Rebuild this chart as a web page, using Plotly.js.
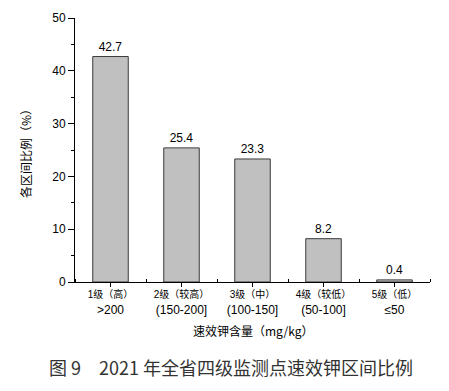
<!DOCTYPE html>
<html>
<head>
<meta charset="utf-8">
<script src="https://cdn.plot.ly/plotly-3.0.1.min.js"></script>
<style>html,body{margin:0;padding:0;background:#fff;}#chart{width:449px;height:391px;}</style>
</head>
<body>
<div id="chart"></div>
<script>
const levels = ["1级（高）", "2级（较高）", "3级（中）", "4级（较低）", "5级（低）"];
const ranges = [">200", "(150-200]", "(100-150]", "(50-100]", "≤50"];
const values = [42.7, 25.4, 23.3, 8.2, 0.4];
const yTitle = "各区间比例（%）";
const xTitle = "速效钾含量（mg/kg）";
const caption = "图 9　2021 年全省四级监测点速效钾区间比例";

const idx = values.map((v, i) => i);
const ticktext = levels.map((l, i) => "<span style='font-size:10px'>" + l + "</span><br>" + ranges[i]);

const trace = {
  type: "bar",
  x: idx,
  y: values,
  width: 0.5,
  marker: {color: "#c0c0c0", line: {color: "#3a3a3a", width: 1}},
  text: values.map(v => v.toFixed(1)),
  textposition: "outside",
  cliponaxis: false,
  textfont: {family: "Liberation Sans, Arial", size: 12, color: "#000"},
  hoverinfo: "none"
};

const layout = {
  width: 449, height: 391,
  margin: {l: 75, r: 19, t: 18, b: 109},
  paper_bgcolor: "#fff", plot_bgcolor: "#fff",
  showlegend: false,
  font: {family: "Liberation Sans, Arial, Noto Sans CJK SC", color: "#000"},
  xaxis: {
    range: [-0.5, 4.5],
    tickmode: "array", tickvals: idx, ticktext: ticktext,
    ticks: "outside", ticklen: 4, tickcolor: "#000", tickwidth: 1,
    ticklabelstandoff: -3,
    minor: {tick0: -0.5, dtick: 1, ticks: "inside", ticklen: 3, tickcolor: "#000"},
    showline: true, linecolor: "#000", linewidth: 1,
    showgrid: false, zeroline: false,
    tickfont: {size: 12, family: "Liberation Sans, Arial, Noto Sans CJK SC", color: "#000"}
  },
  yaxis: {
    range: [0, 50], dtick: 10,
    ticks: "outside", ticklen: 6, tickcolor: "#000", tickwidth: 1,
    minor: {dtick: 5, ticks: "outside", ticklen: 3, tickcolor: "#000"},
    showline: true, linecolor: "#000", linewidth: 1,
    showgrid: false, zeroline: false,
    tickfont: {size: 12, family: "Liberation Sans, Arial", color: "#000"}
  },
  annotations: [
    {text: yTitle, xref: "paper", yref: "paper", x: -0.141, y: 0.5, textangle: -90,
     showarrow: false, xanchor: "center", yanchor: "middle",
     font: {size: 12, family: "Noto Sans CJK SC", color: "#000"}},
    {text: xTitle, xref: "paper", yref: "paper", x: 0.5, y: -0.182,
     showarrow: false, xanchor: "center", yanchor: "middle",
     font: {size: 12, family: "Noto Sans CJK SC", color: "#000"}},
    {text: caption, xref: "paper", yref: "paper", x: 0.44, y: -0.322,
     showarrow: false, xanchor: "center", yanchor: "middle",
     font: {size: 18, family: "Noto Sans CJK SC", color: "#333"}}
  ]
};

Plotly.newPlot("chart", [trace], layout, {staticPlot: true, displayModeBar: false});
</script>
</body>
</html>
